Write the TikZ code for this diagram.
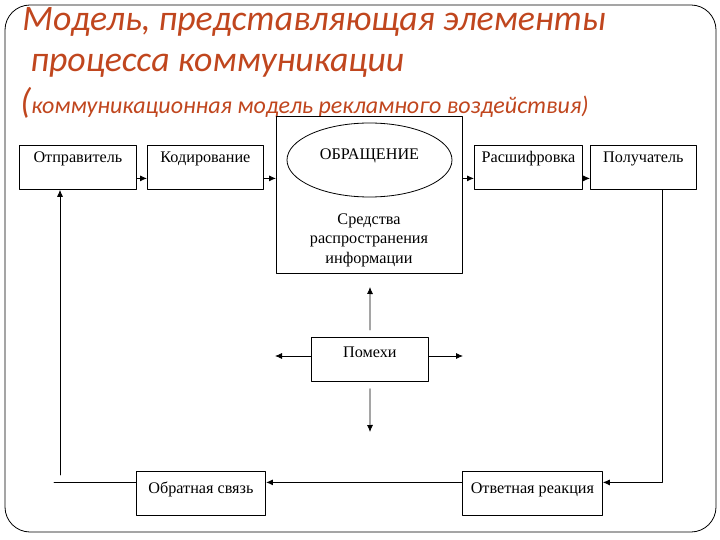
\documentclass[tikz,border=0pt]{standalone}
\usepackage{fontspec}
\setmainfont{Liberation Serif}
\newfontfamily\titlefont{Carlito}
\usetikzlibrary{shapes.geometric,arrows.meta}
\definecolor{titlered}{RGB}{192,70,30}
\begin{document}
\begin{tikzpicture}[x=1pt, y=-1pt, font=\fontsize{16.2}{19.5}\selectfont, line width=0.8pt, line cap=round, line join=round, >={Latex[length=7pt,width=6pt]},
	blok/.style={draw, anchor=north west, inner sep=0pt, text height=17pt, text depth=27pt},
	zag/.style={titlered, anchor=base west, inner sep=0pt, font=\titlefont\itshape\fontsize{35.8}{40}\selectfont}]
		\useasboundingbox (0,0) rectangle (720,540);
		\draw[rounded corners=25pt] (5,5) rectangle (716,532);
		% title
		\node[zag] (t1) at (22,31) {Модель, представляющая элементы};
		\node[zag] (t2) at (30,72) {процесса коммуникации};
		\node[zag] (t3) at (20,114) {(\fontsize{24}{28}\selectfont коммуникационная модель рекламного воздействия)};
		% top row
		\node[blok, minimum width=117pt] (otpr) at (19,145) {Отправитель};
		\node[blok, minimum width=116pt] (kod) at (147,145) {Кодирование};
		\node[draw, anchor=north west, minimum width=186pt, minimum height=157pt, inner sep=0pt] (kanal) at (276,116) {};
		\node[draw, ellipse, minimum width=165pt, minimum height=74pt, inner sep=0pt, text height=12pt, text depth=12pt] (obr) at (369.5,160) {ОБРАЩЕНИЕ};
		\node[align=center, inner sep=0pt] (sredstva) at (369,240) {Средства\\распространения\\информации};
		\node[blok, minimum width=108pt] (rasshifr) at (474,145) {Расшифровка};
		\node[blok, minimum width=106pt] (poluch) at (590,145) {Получатель};
		\draw[->] ([yshift=-11pt]otpr.east) -- ([yshift=-11pt]kod.west);
		\draw[->] ([yshift=-11pt]kod.east) -- ([yshift=-11pt]kod.east -| kanal.west);
		\draw[->] ([yshift=-11pt]rasshifr.west -| kanal.east) -- ([yshift=-11pt]rasshifr.west);
		\draw[->] ([yshift=-11pt]rasshifr.east) -- ([yshift=-11pt]poluch.west);
		% noise
		\node[blok, minimum width=117pt, text height=20pt, text depth=24pt] (pomehi) at (311,337) {Помехи};
		\coordinate (pup) at (370,287);
		\coordinate (pdown) at (370,432);
		\coordinate (pleft) at (275,356);
		\coordinate (pright) at (463,356);
		\draw[->] ([yshift=7pt]pomehi.north) -- (pup);
		\draw[->] ([yshift=-7pt]pomehi.south) -- (pdown);
		\draw[->] (pomehi.west |- pleft) -- (pleft);
		\draw[->] (pomehi.east |- pright) -- (pright);
		% feedback
		\node[blok, minimum width=129pt, text height=22pt, text depth=22pt] (obrsv) at (136,471) {Обратная связь};
		\node[blok, minimum width=140pt, text height=22pt, text depth=22pt] (otvet) at (462,471) {Ответная реакция};
		\draw[->] ([xshift=19pt]poluch.south) |- ([yshift=11pt]otvet.east);
		\draw[->, line width=1.8pt] ([yshift=11pt]otvet.west) -- ([yshift=11pt]obrsv.east);
		\draw ([yshift=11pt]obrsv.west) -- ++(-82,0) coordinate (fbend);
		\coordinate (fbup) at (60,475);
		\draw[->] (fbup) -- (fbup |- otpr.south);
\end{tikzpicture}
\end{document}
